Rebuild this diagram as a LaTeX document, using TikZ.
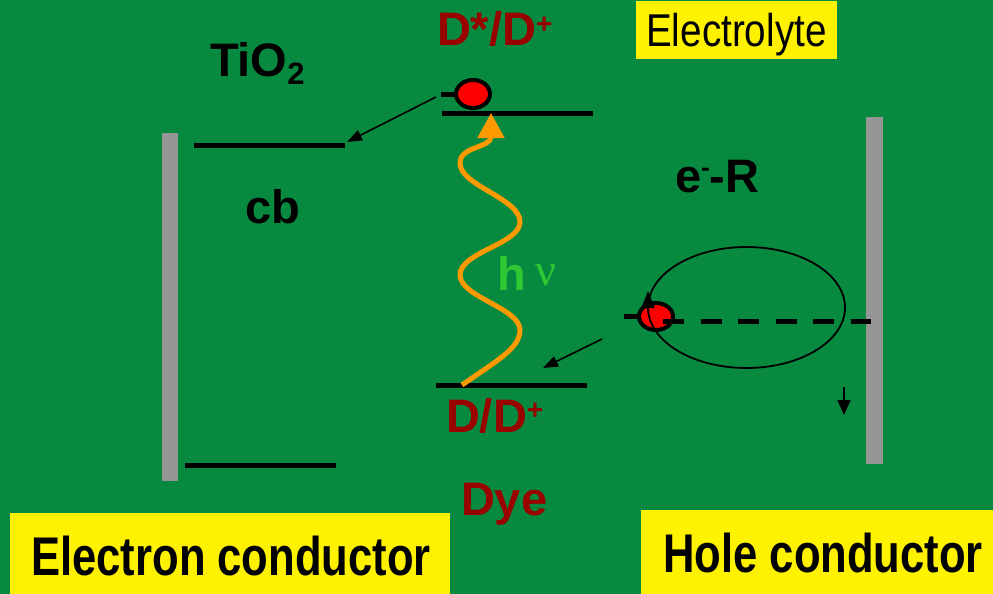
\documentclass[tikz,border=0pt]{standalone}
\usepackage{fontspec}
\setmainfont{Liberation Sans}
\newfontfamily\narrowfont[FakeStretch=0.84]{Liberation Sans}
\newfontfamily\narrowbold[FakeStretch=0.8]{Liberation Sans Bold}
\newfontfamily\seriffont{Liberation Serif}
\usetikzlibrary{arrows.meta}
\definecolor{bggreen}{RGB}{7,138,64}
\definecolor{bargray}{RGB}{150,150,150}
\definecolor{darkred}{RGB}{153,0,0}
\definecolor{wave}{RGB}{255,153,0}
\definecolor{hgreen}{RGB}{45,200,50}
\definecolor{electron}{RGB}{255,0,0}
\tikzset{
  lbl/.style={anchor=base west,inner sep=0pt,outer sep=0pt,font=\bfseries\fontsize{47}{56}\selectfont},
  redlbl/.style={lbl,text=darkred},
  level/.style={line width=5pt},
  bar/.style={fill=bargray},
  ybox/.style={fill=yellow},
  thinarrow/.style={line width=1.6pt,-{Triangle[length=15pt,width=11pt]}},
  electronball/.style={draw=black,line width=4pt,fill=electron},
  tick/.style={line width=5pt},
}
\begin{document}
\begin{tikzpicture}[x=1pt,y=-1pt]
\fill[bggreen] (0,0) rectangle (993,594);
\useasboundingbox (0,0) rectangle (993,594);

% electrodes
\fill[bar] (162,133) rectangle (178,481);
\fill[bar] (866,117) rectangle (883,464);

% energy levels
\draw[level] (194,145) coordinate (cbL) -- (345,145) coordinate (cbR);
\draw[level] (185,465) coordinate (vbL) -- (336,465) coordinate (vbR);
\draw[level] (442,113) coordinate (dsL) -- (593,113) coordinate (dsR);
\draw[level] (436,385) coordinate (dgL) -- (587,385) coordinate (dgR);

% yellow boxes
\fill[ybox] (636,1) rectangle (837,59);
\fill[ybox] (10,513) rectangle (450,594);
\fill[ybox] (641,510) rectangle (993,594);

% labels
\node[redlbl] (dstar) at (437,46) {D*/D\raisebox{13pt}{\fontsize{28}{28}\selectfont +}};
\node[lbl] (tio2) at (210,77) {TiO\raisebox{-8pt}{\fontsize{31}{31}\selectfont 2}};
\node[lbl] (cb) at (245,223) {cb};
\node[lbl] (eR) at (675,192) {e\raisebox{16pt}{\fontsize{26}{26}\selectfont -}-R};
\node[redlbl] (dground) at (446,432) {D/D\raisebox{13pt}{\fontsize{28}{28}\selectfont +}};
\node[redlbl] (dye) at (461,515) {Dye};
\node[anchor=base west,inner sep=0pt] (electrolyte) at (646,47) {\narrowfont\fontsize{46}{54}\selectfont Electrolyte};
\node[anchor=base west,inner sep=0pt] (econd) at (31,575) {\narrowbold\fontsize{54.5}{60}\selectfont Electron conductor};
\node[anchor=base west,inner sep=0pt] (hcond) at (663,572) {\narrowbold\fontsize{54.5}{60}\selectfont Hole conductor};
\node[anchor=base west,inner sep=0pt,text=hgreen,font=\bfseries\fontsize{47}{54}\selectfont] (h) at (497,290) {h};
\node[anchor=base west,inner sep=0pt,text=hgreen] (nu) at (535,285) {\seriffont\fontsize{46}{52}\selectfont ν};

% excited dye electron
\draw[tick] (441,94) -- (458,94);
\draw[electronball] (473,94) ellipse [x radius=17, y radius=14];
\coordinate (inj) at (436,97);
\coordinate (injtip) at (347,142);
\draw[thinarrow] (inj) -- (injtip);

% photon wave
\coordinate (wstart) at (462,385);
\coordinate (wtip) at (491,113);
\draw[wave,line width=5pt,-{Triangle[length=25pt,width=26pt]}]
  (wstart) .. controls (498,360) and (520,348) .. (520,330)
  .. controls (520,308) and (460,297) .. (460,275)
  .. controls (460,252) and (520,244) .. (520,222)
  .. controls (520,198) and (460,186) .. (460,163)
  .. controls (460,146) and (491,148) .. (wtip);

% regeneration arrow
\coordinate (reg) at (602,339);
\coordinate (regtip) at (543,368);
\draw[thinarrow] (reg) -- (regtip);

% electrolyte electron
\draw[tick] (624,316) -- (643,316);
\draw[electronball] (656,316.5) ellipse [x radius=17, y radius=13.5];
\draw[line width=1.8pt] (746.5,307.5) ellipse [x radius=98.5, y radius=60.5];
\coordinate (orb) at (648,312);
\coordinate (orbtip) at (648,291);
\draw[line width=1.8pt,-{Triangle[length=17pt,width=13pt]}] (orb) -- (orbtip);
\draw[line width=5pt,dash pattern=on 21pt off 16.5pt] (663,321) -- (871,321);

% small down arrow
\coordinate (dn) at (844,387);
\coordinate (dntip) at (844,415);
\draw[line width=1.8pt,-{Triangle[length=15pt,width=13pt]}] (dn) -- (dntip);
\end{tikzpicture}
\end{document}
